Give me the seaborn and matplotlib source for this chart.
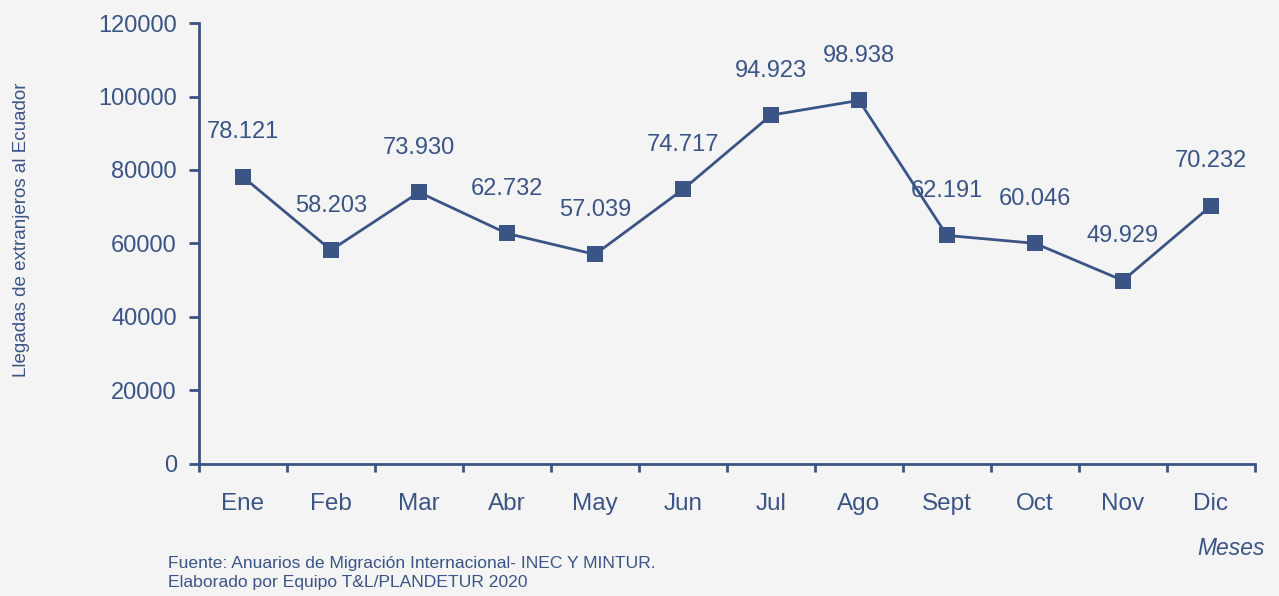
import numpy as np
import pandas as pd
import seaborn as sns
from matplotlib import pyplot as plt
from matplotlib.ticker import FixedLocator

months = ["Ene", "Feb", "Mar", "Abr", "May", "Jun", "Jul", "Ago", "Sept", "Oct", "Nov", "Dic"]
arrivals = [78121, 58203, 73930, 62732, 57039, 74717, 94923, 98938, 62191, 60046, 49929, 70232]
y_ticks = [0, 20000, 40000, 60000, 80000, 100000, 120000]

BLUE = "#3b5486"
BG = "#f4f4f4"

sns.set_style("ticks")
plt.rcParams["font.family"] = ["Liberation Sans", "DejaVu Sans"]

df = pd.DataFrame({"mes": np.arange(len(months)), "llegadas": arrivals})

fig = plt.figure(figsize=(12.79, 5.96), dpi=100, facecolor=BG)
ax = fig.add_axes([0.1556, 0.2215, 0.8256, 0.7399])
ax.set_facecolor(BG)

sns.lineplot(data=df, x="mes", y="llegadas", ax=ax, color=BLUE, linewidth=2,
             marker="s", markersize=11.5, markeredgecolor=BLUE, markeredgewidth=0)

# data labels with dot as thousands separator
for i, v in enumerate(arrivals):
    ax.annotate(f"{v:,}".replace(",", "."), (i, v), textcoords="offset points",
                xytext=(0, 32), ha="center", va="center", fontsize=17, color=BLUE)

ax.set_xlim(-0.5, len(months) - 0.5)
ax.set_ylim(0, 120000)
ax.set_yticks(y_ticks)
ax.set_yticklabels([str(t) for t in y_ticks])
ax.set_xticks(range(len(months)))
ax.set_xticklabels(months)
ax.xaxis.set_minor_locator(FixedLocator(np.arange(-0.5, len(months), 1)))

ax.tick_params(axis="x", which="major", length=0, pad=21, labelsize=17.5, labelcolor=BLUE)
ax.tick_params(axis="x", which="minor", length=6, width=2, color=BLUE, direction="out")
ax.tick_params(axis="y", length=7, width=2, color=BLUE, labelsize=17, labelcolor=BLUE, pad=9)

sns.despine(ax=ax)
for side in ["left", "bottom"]:
    ax.spines[side].set_color(BLUE)
    ax.spines[side].set_linewidth(2)

ax.set_xlabel("")
ax.set_ylabel("")
fig.text(0.017, 0.615, "Llegadas de extranjeros al Ecuador", rotation=90,
         ha="center", va="center", fontsize=13.5, color=BLUE)
fig.text(0.989, 0.080, "Meses", ha="right", va="center", fontsize=16.5,
         style="italic", color=BLUE)
fig.text(0.131, 0.039, "Fuente: Anuarios de Migración Internacional- INEC Y MINTUR.\n"
         "Elaborado por Equipo T&L/PLANDETUR 2020", ha="left", va="center",
         fontsize=12.6, color=BLUE, linespacing=1.3)

fig.savefig("out.png", dpi=100, facecolor=BG)
